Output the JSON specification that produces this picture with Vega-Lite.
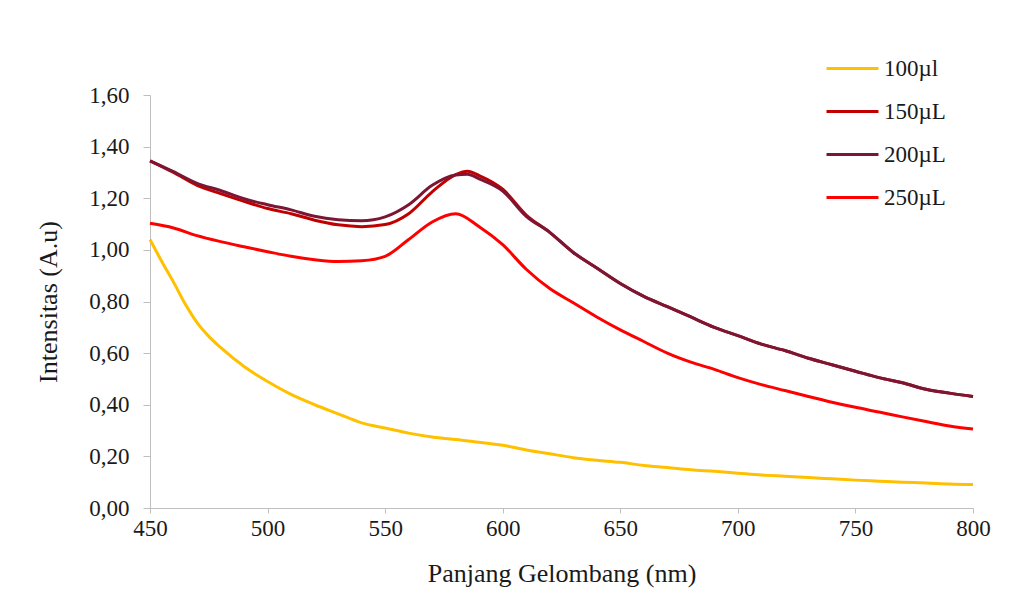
{
  "$schema": "https://vega.github.io/schema/vega-lite/v6.json",
  "width": 823,
  "height": 413,
  "autosize": {"type": "none"},
  "padding": {"left": 150, "top": 95, "right": 61, "bottom": 96},
  "background": "white",
  "config": {
    "view": {"stroke": null},
    "font": "Liberation Serif",
    "axis": {"labelFont": "Liberation Serif", "titleFont": "Liberation Serif", "labelColor": "#1a1a1a", "titleColor": "#1a1a1a", "titleFontWeight": "normal", "domainColor": "#BFBFBF", "tickColor": "#BFBFBF", "grid": false},
    "legend": {"labelFont": "Liberation Serif"}
  },
  "data": {"values": [
    {"wl":450,"s":"100µl","v":1.04},{"wl":455,"s":"100µl","v":0.955},{"wl":460,"s":"100µl","v":0.875},{"wl":465,"s":"100µl","v":0.79},{"wl":470,"s":"100µl","v":0.718},{"wl":475,"s":"100µl","v":0.665},{"wl":480,"s":"100µl","v":0.622},{"wl":490,"s":"100µl","v":0.548},{"wl":500,"s":"100µl","v":0.49},{"wl":510,"s":"100µl","v":0.44},{"wl":520,"s":"100µl","v":0.4},{"wl":530,"s":"100µl","v":0.365},{"wl":540,"s":"100µl","v":0.33},{"wl":550,"s":"100µl","v":0.31},{"wl":560,"s":"100µl","v":0.29},{"wl":570,"s":"100µl","v":0.275},{"wl":580,"s":"100µl","v":0.265},{"wl":590,"s":"100µl","v":0.255},{"wl":600,"s":"100µl","v":0.243},{"wl":610,"s":"100µl","v":0.225},{"wl":620,"s":"100µl","v":0.21},{"wl":630,"s":"100µl","v":0.195},{"wl":640,"s":"100µl","v":0.185},{"wl":650,"s":"100µl","v":0.177},{"wl":660,"s":"100µl","v":0.165},{"wl":670,"s":"100µl","v":0.157},{"wl":680,"s":"100µl","v":0.148},{"wl":690,"s":"100µl","v":0.142},{"wl":700,"s":"100µl","v":0.135},{"wl":710,"s":"100µl","v":0.128},{"wl":720,"s":"100µl","v":0.123},{"wl":730,"s":"100µl","v":0.118},{"wl":740,"s":"100µl","v":0.113},{"wl":750,"s":"100µl","v":0.108},{"wl":760,"s":"100µl","v":0.104},{"wl":770,"s":"100µl","v":0.1},{"wl":780,"s":"100µl","v":0.097},{"wl":790,"s":"100µl","v":0.093},{"wl":800,"s":"100µl","v":0.091},

    {"wl":450,"s":"150µL","v":1.345},{"wl":460,"s":"150µL","v":1.3},{"wl":470,"s":"150µL","v":1.25},{"wl":480,"s":"150µL","v":1.218},{"wl":490,"s":"150µL","v":1.188},{"wl":500,"s":"150µL","v":1.16},{"wl":510,"s":"150µL","v":1.14},{"wl":520,"s":"150µL","v":1.115},{"wl":530,"s":"150µL","v":1.097},{"wl":540,"s":"150µL","v":1.09},{"wl":550,"s":"150µL","v":1.098},{"wl":560,"s":"150µL","v":1.14},{"wl":570,"s":"150µL","v":1.225},{"wl":580,"s":"150µL","v":1.292},{"wl":585,"s":"150µL","v":1.305},{"wl":590,"s":"150µL","v":1.288},{"wl":600,"s":"150µL","v":1.235},{"wl":610,"s":"150µL","v":1.135},{"wl":620,"s":"150µL","v":1.068},{"wl":630,"s":"150µL","v":0.99},{"wl":640,"s":"150µL","v":0.93},{"wl":650,"s":"150µL","v":0.87},{"wl":660,"s":"150µL","v":0.82},{"wl":670,"s":"150µL","v":0.78},{"wl":680,"s":"150µL","v":0.74},{"wl":690,"s":"150µL","v":0.70},{"wl":700,"s":"150µL","v":0.668},{"wl":710,"s":"150µL","v":0.635},{"wl":720,"s":"150µL","v":0.61},{"wl":730,"s":"150µL","v":0.58},{"wl":740,"s":"150µL","v":0.555},{"wl":750,"s":"150µL","v":0.53},{"wl":760,"s":"150µL","v":0.505},{"wl":770,"s":"150µL","v":0.485},{"wl":780,"s":"150µL","v":0.46},{"wl":790,"s":"150µL","v":0.445},{"wl":800,"s":"150µL","v":0.432},

    {"wl":450,"s":"200µL","v":1.345},{"wl":460,"s":"200µL","v":1.303},{"wl":470,"s":"200µL","v":1.258},{"wl":480,"s":"200µL","v":1.23},{"wl":490,"s":"200µL","v":1.198},{"wl":500,"s":"200µL","v":1.175},{"wl":510,"s":"200µL","v":1.155},{"wl":520,"s":"200µL","v":1.13},{"wl":530,"s":"200µL","v":1.117},{"wl":540,"s":"200µL","v":1.113},{"wl":550,"s":"200µL","v":1.128},{"wl":560,"s":"200µL","v":1.175},{"wl":570,"s":"200µL","v":1.25},{"wl":580,"s":"200µL","v":1.29},{"wl":585,"s":"200µL","v":1.293},{"wl":590,"s":"200µL","v":1.275},{"wl":600,"s":"200µL","v":1.228},{"wl":610,"s":"200µL","v":1.13},{"wl":620,"s":"200µL","v":1.068},{"wl":630,"s":"200µL","v":0.99},{"wl":640,"s":"200µL","v":0.93},{"wl":650,"s":"200µL","v":0.87},{"wl":660,"s":"200µL","v":0.82},{"wl":670,"s":"200µL","v":0.78},{"wl":680,"s":"200µL","v":0.74},{"wl":690,"s":"200µL","v":0.70},{"wl":700,"s":"200µL","v":0.668},{"wl":710,"s":"200µL","v":0.635},{"wl":720,"s":"200µL","v":0.61},{"wl":730,"s":"200µL","v":0.58},{"wl":740,"s":"200µL","v":0.555},{"wl":750,"s":"200µL","v":0.53},{"wl":760,"s":"200µL","v":0.505},{"wl":770,"s":"200µL","v":0.485},{"wl":780,"s":"200µL","v":0.46},{"wl":790,"s":"200µL","v":0.445},{"wl":800,"s":"200µL","v":0.432},

    {"wl":450,"s":"250µL","v":1.103},{"wl":460,"s":"250µL","v":1.085},{"wl":470,"s":"250µL","v":1.055},{"wl":480,"s":"250µL","v":1.032},{"wl":490,"s":"250µL","v":1.012},{"wl":500,"s":"250µL","v":0.993},{"wl":510,"s":"250µL","v":0.975},{"wl":520,"s":"250µL","v":0.962},{"wl":530,"s":"250µL","v":0.955},{"wl":540,"s":"250µL","v":0.958},{"wl":550,"s":"250µL","v":0.975},{"wl":560,"s":"250µL","v":1.04},{"wl":570,"s":"250µL","v":1.108},{"wl":580,"s":"250µL","v":1.14},{"wl":590,"s":"250µL","v":1.09},{"wl":600,"s":"250µL","v":1.02},{"wl":610,"s":"250µL","v":0.925},{"wl":620,"s":"250µL","v":0.85},{"wl":630,"s":"250µL","v":0.795},{"wl":640,"s":"250µL","v":0.74},{"wl":650,"s":"250µL","v":0.69},{"wl":660,"s":"250µL","v":0.645},{"wl":670,"s":"250µL","v":0.60},{"wl":680,"s":"250µL","v":0.565},{"wl":690,"s":"250µL","v":0.537},{"wl":700,"s":"250µL","v":0.505},{"wl":710,"s":"250µL","v":0.478},{"wl":720,"s":"250µL","v":0.455},{"wl":730,"s":"250µL","v":0.432},{"wl":740,"s":"250µL","v":0.41},{"wl":750,"s":"250µL","v":0.39},{"wl":760,"s":"250µL","v":0.372},{"wl":770,"s":"250µL","v":0.353},{"wl":780,"s":"250µL","v":0.335},{"wl":790,"s":"250µL","v":0.318},{"wl":800,"s":"250µL","v":0.306}
  ]},
  "mark": {"type": "line", "strokeWidth": 3, "interpolate": "monotone"},
  "encoding": {
    "x": {"field": "wl", "type": "quantitative", "scale": {"domain": [450, 800], "nice": false, "zero": false},
      "axis": {"values": [450,500,550,600,650,700,750,800], "title": "Panjang Gelombang (nm)", "labelFontSize": 23, "titleFontSize": 26, "tickSize": 5, "labelPadding": 4, "titlePadding": 20, "labelFlush": false}},
    "y": {"field": "v", "type": "quantitative", "scale": {"domain": [0, 1.6], "nice": false},
      "axis": {"values": [0,0.2,0.4,0.6,0.8,1.0,1.2,1.4,1.6], "format": ".2f", "labelExpr": "replace(datum.label, '.', ',')", "title": "Intensitas (A.u)", "labelFontSize": 23, "titleFontSize": 26, "tickSize": 7, "labelPadding": 14, "titlePadding": 27}},
    "color": {"field": "s", "type": "nominal",
      "scale": {"domain": ["100µl", "150µL", "200µL", "250µL"], "range": ["#FFC000", "#C00000", "#7B1735", "#FF0000"]},
      "legend": {"title": null, "orient": "none", "legendX": 675, "legendY": -54, "symbolType": "stroke", "symbolSize": 2700, "symbolStrokeWidth": 3, "labelFontSize": 23, "labelColor": "#1a1a1a", "rowPadding": 3, "labelOffset": 4}}
  }
}
